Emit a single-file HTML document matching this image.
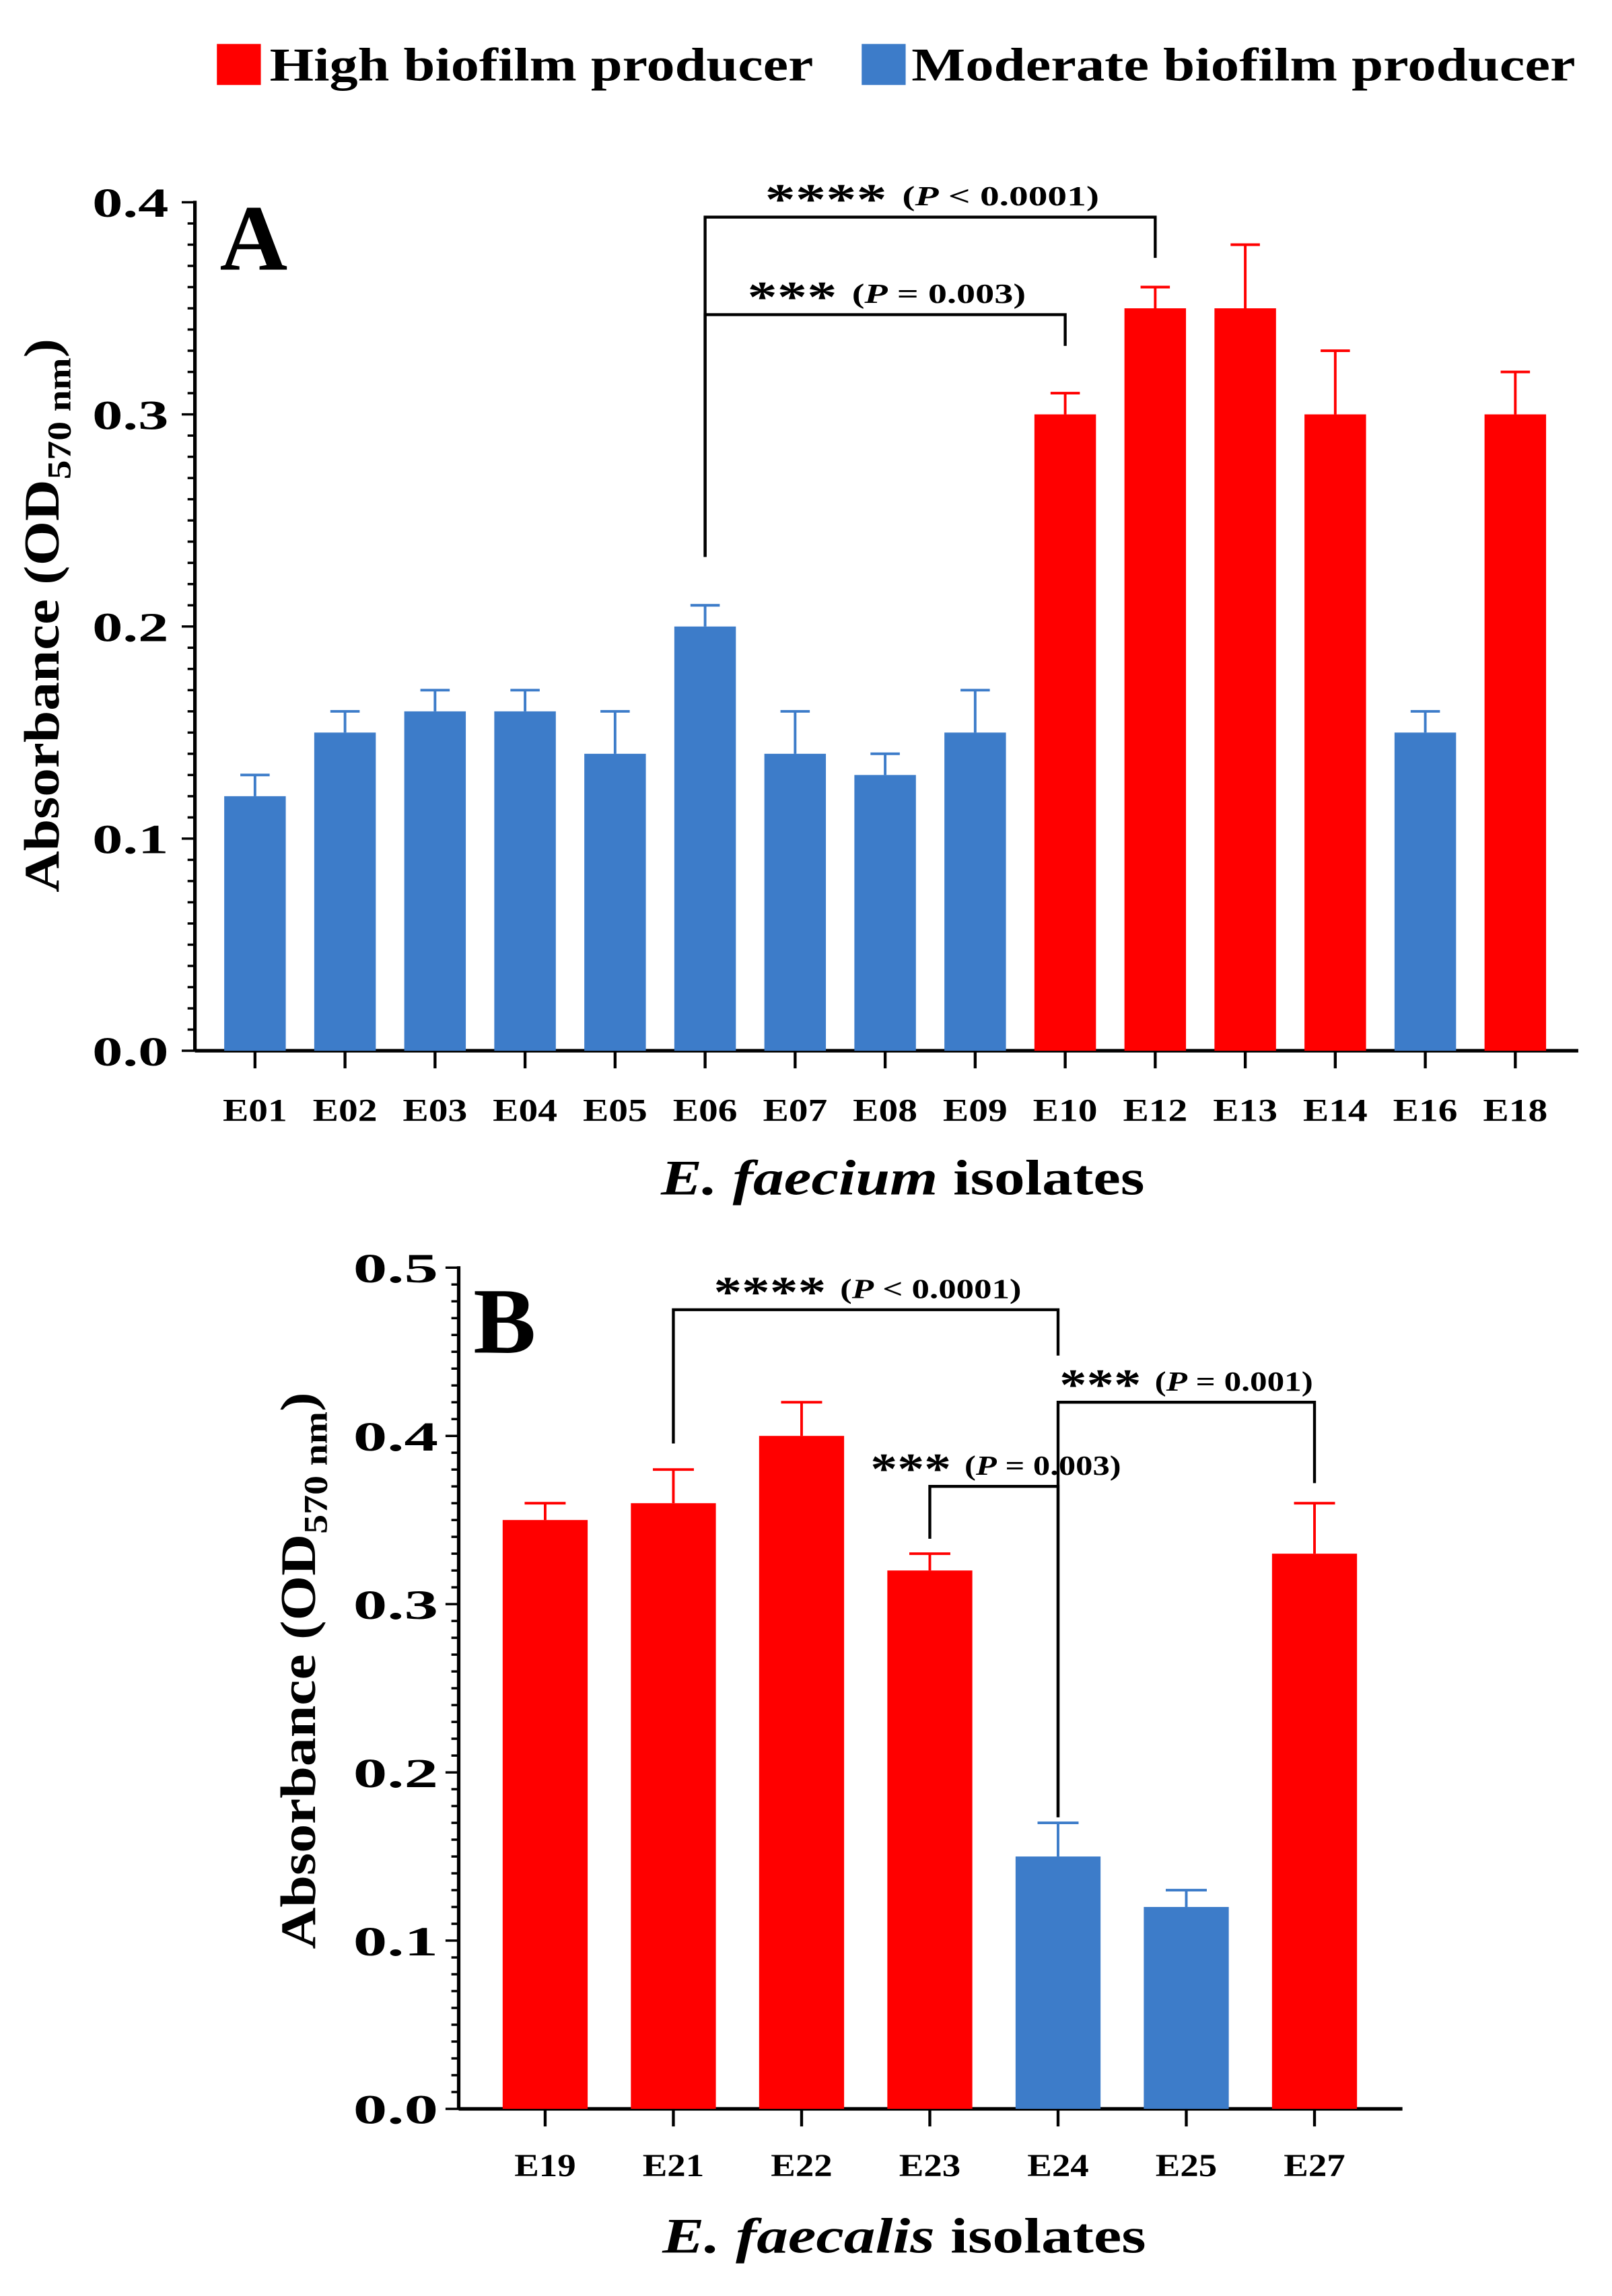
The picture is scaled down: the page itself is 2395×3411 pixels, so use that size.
<!DOCTYPE html>
<html><head><meta charset="utf-8"><style>
html,body{margin:0;padding:0;background:#fff;}
svg{display:block;}
text{font-family:"Liberation Serif",serif;font-weight:bold;fill:#000;}
</style></head><body>
<svg id="fig" width="2395" height="3411" viewBox="0 0 1100 1566.7" preserveAspectRatio="none" xmlns="http://www.w3.org/2000/svg">
<g>
  <rect x="148" y="30" width="30" height="28" fill="#ff0000"/>
  <text x="184" y="55" font-size="32" textLength="371" lengthAdjust="spacingAndGlyphs">High biofilm producer</text>
  <rect x="588" y="30" width="30" height="28" fill="#3d7cc9"/>
  <text x="622" y="55" font-size="32" textLength="453" lengthAdjust="spacingAndGlyphs">Moderate biofilm producer</text>
</g>
<g id="chartA"></g>
<g id="chartB"></g>
</svg>
<script>
const catsA = ["E01","E02","E03","E04","E05","E06","E07","E08","E09","E10","E12","E13","E14","E16","E18"];
const valsA = [0.12,0.15,0.16,0.16,0.14,0.20,0.14,0.13,0.15,0.30,0.35,0.35,0.30,0.15,0.30];
const errA  = [0.01,0.01,0.01,0.01,0.02,0.01,0.02,0.01,0.02,0.01,0.01,0.03,0.03,0.01,0.02];
const grpA  = ["m","m","m","m","m","m","m","m","m","h","h","h","h","m","h"];
const ticksA = ["0.0","0.1","0.2","0.3","0.4"];
const catsB = ["E19","E21","E22","E23","E24","E25","E27"];
const valsB = [0.35,0.36,0.40,0.32,0.15,0.12,0.33];
const errB  = [0.01,0.02,0.02,0.01,0.02,0.01,0.03];
const grpB  = ["h","h","h","h","m","m","h"];
const ticksB = ["0.0","0.1","0.2","0.3","0.4","0.5"];

const NS="http://www.w3.org/2000/svg";
const COL={h:"#ff0000",m:"#3d7cc9"};
function mk(parent,tag,attrs,txt){const e=document.createElementNS(NS,tag);for(const k in attrs)e.setAttribute(k,attrs[k]);if(txt!==undefined)e.textContent=txt;parent.appendChild(e);return e;}

function drawChart(g,cfg){
  const y=v=>cfg.y0-(v/cfg.ymax)*(cfg.y0-cfg.yTop);
  const x=i=>cfg.x0c+i*cfg.step;
  const nMinor=Math.round(cfg.ymax/0.01);
  for(let k=0;k<=nMinor;k++){
    const major=k%10===0;
    const t=mk(g,"line",{x1:cfg.ax-(major?9:5),x2:cfg.ax,y1:y(k*0.01),y2:y(k*0.01),stroke:"#000","stroke-width":1.6});
    
    
  }
  cfg.ticks.forEach((lab,i)=>{
    const t=mk(g,"text",{x:cfg.ax-cfg.tickGap-cfg.tickW,y:y(parseFloat(lab))+10,"font-size":cfg.tickFs,textLength:cfg.tickW,lengthAdjust:"spacingAndGlyphs"},lab);
    
    
  });
  const ya=mk(g,"line",{x1:cfg.ax,x2:cfg.ax,y1:cfg.yTop-1,y2:cfg.y0,stroke:"#000","stroke-width":2.4});
  
  
  const xa=mk(g,"line",{x1:cfg.ax,x2:cfg.xEnd,y1:cfg.y0,y2:cfg.y0,stroke:"#000","stroke-width":2.4});
  
  
  cfg.cats.forEach((c,i)=>{
    const col=COL[cfg.grp[i]];
    const top=y(cfg.vals[i]), et=y(cfg.vals[i]+cfg.err[i]);
    const b=mk(g,"rect",{x:x(i)-cfg.bw/2,y:top,width:cfg.bw,height:cfg.y0-top,fill:col});
    
    
    const e1=mk(g,"line",{x1:x(i),x2:x(i),y1:top,y2:et,stroke:col,"stroke-width":1.8});
    
    
    const e2=mk(g,"line",{x1:x(i)-cfg.cap,x2:x(i)+cfg.cap,y1:et,y2:et,stroke:col,"stroke-width":1.8});
    
    
    const tk=mk(g,"line",{x1:x(i),x2:x(i),y1:cfg.y0,y2:cfg.y0+12,stroke:"#000","stroke-width":2});
    
    
    const tl=mk(g,"text",{x:x(i)-cfg.catW/2,y:cfg.catY,"font-size":cfg.catFs,textLength:cfg.catW,lengthAdjust:"spacingAndGlyphs"},c);
    
    
  });
  cfg.brackets.forEach(br=>{
    const by=y(br.level);
    const p=mk(g,"polyline",{points:`${x(br.a)},${br.la} ${x(br.a)},${by} ${x(br.b)},${by} ${x(br.b)},${br.lb}`,fill:"none",stroke:"#000","stroke-width":2});
    
    
    const t=mk(g,"text",{x:br.tx,y:by-br.ty,"font-size":19,textLength:br.tw,lengthAdjust:"spacingAndGlyphs"});
    
    
    mk(t,"tspan",{"font-size":30,dy:6},br.stars+" ");
    mk(t,"tspan",{dy:-6},"(");
    mk(t,"tspan",{"font-style":"italic"},"P");
    mk(t,"tspan",{},br.p+")");
  });
  const pl=mk(g,"text",{x:cfg.letterX,y:cfg.letterY,"font-size":64},cfg.letter);
  
  
  const yt=mk(g,"text",{transform:`translate(${cfg.ytX},${cfg.ytY}) rotate(-90)`,x:-cfg.ytW/2,"font-size":34,textLength:cfg.ytW,lengthAdjust:"spacingAndGlyphs"});
  
  
  mk(yt,"tspan",{},"Absorbance (OD");
  mk(yt,"tspan",{"font-size":23,dy:8},"570 nm");
  mk(yt,"tspan",{dy:-8},")");
  const xt=mk(g,"text",{x:cfg.xtX-165,y:cfg.xtY,"font-size":34,textLength:330,lengthAdjust:"spacingAndGlyphs"});
  
  
  mk(xt,"tspan",{"font-style":"italic"},cfg.species);
  mk(xt,"tspan",{}," isolates");
}

drawChart(document.getElementById("chartA"),{
  cats:catsA,vals:valsA,err:errA,grp:grpA,ticks:ticksA,ymax:0.4,
  ax:133,y0:717,yTop:138,xEnd:1077,x0c:174,step:61.43,bw:42,cap:10,
  tickFs:28,tickW:52,tickGap:18,catFs:22,catW:44,catY:765,
  brackets:[{a:5,b:10,level:0.393,la:380,lb:176,stars:"****",p:" < 0.0001",tx:522,ty:8,tw:228},
            {a:5,b:9,level:0.347,la:380,lb:236,stars:"***",p:" = 0.003",tx:510,ty:8,tw:190}],
  letter:"A",letterX:150,letterY:184,ytX:40,ytY:420,ytW:378,xtX:616,xtY:815,species:"E. faecium"
});
drawChart(document.getElementById("chartB"),{
  cats:catsB,vals:valsB,err:errB,grp:grpB,ticks:ticksB,ymax:0.5,
  ax:313,y0:1439,yTop:865,xEnd:957,x0c:372,step:87.5,bw:58,cap:14,
  tickFs:28,tickW:58,tickGap:14,catFs:22,catW:42,catY:1485,
  brackets:[{a:1,b:4,level:0.475,la:985,lb:925,stars:"****",p:" < 0.0001",tx:487,ty:8,tw:210},
            {a:4,b:6,level:0.42,la:1240,lb:1012,stars:"***",p:" = 0.001",tx:723,ty:8,tw:173},
            {a:3,b:4,level:0.37,la:1050,lb:1240,stars:"***",p:" = 0.003",tx:594,ty:8,tw:171}],
  letter:"B",letterX:323,letterY:923,ytX:215,ytY:1140,ytW:380,xtX:617,xtY:1537,species:"E. faecalis"
});
</script>
</body></html>
